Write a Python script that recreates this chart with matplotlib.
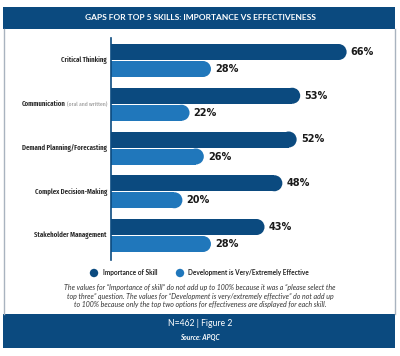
import matplotlib
matplotlib.use("Agg")
import matplotlib.pyplot as plt
from matplotlib.patches import Ellipse, Rectangle, Circle

skills = ["Critical Thinking", "Communication", "Demand Planning/Forecasting",
          "Complex Decision-Making", "Stakeholder Management"]
skill_notes = ["", "(oral and written)", "", "", ""]
importance = [66, 53, 52, 48, 43]
effective = [28, 22, 26, 20, 28]
series_names = ["Importance of Skill", "Development is Very/Extremely Effective"]
title = "GAPS FOR TOP 5 SKILLS: IMPORTANCE VS EFFECTIVENESS"
footnote = ("The values for \u201cImportance of skill\u201d do not add up to 100% because it was a \u201cplease select the\n"
            "top three\u201d question. The values for \u201cDevelopment is very/extremely effective\u201d do not add up\n"
            "to 100% because only the top two options for effectiveness are displayed for each skill.")
footer1 = "N=462 | Figure 2"
footer2 = "Source: APQC"

DARK = "#0B4A7F"
LIGHT = "#2077BB"
W, H = 400, 356
LBL = ["Fira Sans Extra Condensed", "DejaVu Sans"]
NUM = ["DejaVu Sans"]
TXT = ["Lato", "DejaVu Sans"]

fig = plt.figure(figsize=(W / 100, H / 100), dpi=100)
fig.patch.set_facecolor("white")

# overlay in pixel coordinates for frame / texts
ov = fig.add_axes([0, 0, 1, 1])
ov.set_xlim(0, W)
ov.set_ylim(H, 0)
ov.axis("off")
ov.add_patch(Rectangle((3, 7), 392, 22, color=DARK, lw=0))
ov.add_patch(Rectangle((3, 314), 392, 34, color=DARK, lw=0))
ov.plot([3.5, 3.5], [29, 314], color="#a9b3bf", lw=1)
ov.plot([394.5, 394.5], [29, 314], color="#a9b3bf", lw=1)
ov.text(200, 18, title, color="white", ha="center", va="center",
        fontsize=6.0, fontweight="bold", family=TXT)
ov.text(200, 324, footer1, color="white", ha="center", va="center",
        fontsize=6.2, family=TXT)
ov.text(200, 337.5, footer2, color="white", ha="center", va="center",
        fontsize=4.8, fontweight="bold", style="italic", family=TXT)
ov.text(200, 296, footnote, color="#333333", ha="center", va="center",
        fontsize=5.0, style="italic", family=TXT, linespacing=1.2)

# legend
ov.add_patch(Circle((94, 273), 4.2, color=DARK, lw=0))
ov.add_patch(Circle((180, 273), 4.2, color=LIGHT, lw=0))
ov.text(103, 273, series_names[0], ha="left", va="center", fontsize=4.7,
        fontweight="bold", family=TXT, color="#222222")
ov.text(188, 273, series_names[1], ha="left", va="center", fontsize=4.7,
        fontweight="bold", family=TXT, color="#222222")

# chart axes
x0, x1, ytop, ybot = 111, 395, 38, 260
ax = fig.add_axes([x0 / W, (H - ybot) / H, (x1 - x0) / W, (ybot - ytop) / H])
px_per_pct = 3.57
ax.set_xlim(0, (x1 - x0) / px_per_pct)
ax.set_ylim(ybot, ytop)
ax.axis("off")
ax.plot([0, 0], [ytop, ybot], color=DARK, lw=1.2, zorder=5, clip_on=False)

bar_h = 16
rx = (bar_h / 2) / px_per_pct
pitch = 43.75
for i, (imp, eff) in enumerate(zip(importance, effective)):
    cd = 52 + i * pitch
    cl = cd + 17
    for val, c, col in ((imp, cd, DARK), (eff, cl, LIGHT)):
        ax.barh(c, val - rx, height=bar_h, color=col, lw=0)
        ax.add_patch(Ellipse((val - rx, c), 2 * rx, bar_h, color=col, lw=0))
        ax.annotate(f"{val}%", (val, c), xytext=(3, 0), textcoords="offset points",
                    ha="left", va="center", fontsize=7, fontweight="bold",
                    family=NUM, color="#1a1a1a")

fig.canvas.draw()
r = fig.canvas.get_renderer()
for i, (name, note) in enumerate(zip(skills, skill_notes)):
    cy = 52 + i * pitch + 8.5
    x_right = 107
    if note:
        t = ov.text(x_right, cy, note, ha="right", va="center", fontsize=4.4,
                    family=LBL, color="#8a8a8a")
        bb = t.get_window_extent(r)
        x_right = bb.x0 - 1.5
    ov.text(x_right, cy, name, ha="right", va="center", fontsize=5.3,
            fontweight="semibold", family=LBL, color="#262626")

fig.savefig("out.png", dpi=100)
